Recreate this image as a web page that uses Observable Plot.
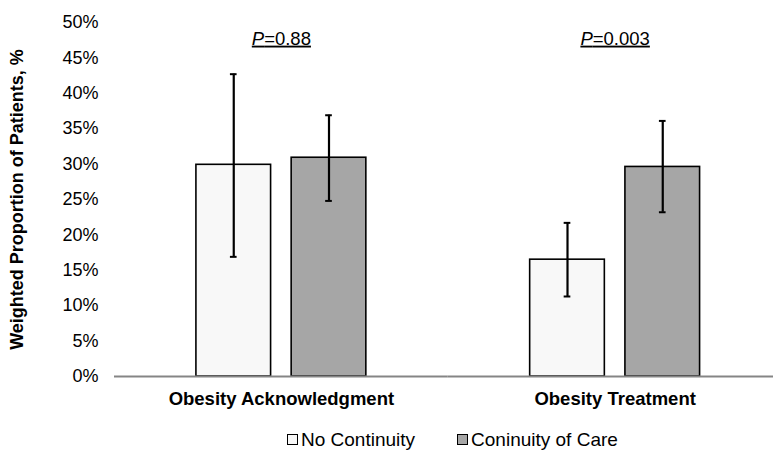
<!DOCTYPE html>
<html><head><meta charset="utf-8">
<script src="https://cdn.jsdelivr.net/npm/d3@7"></script>
<script src="https://cdn.jsdelivr.net/npm/@observablehq/plot@0.6"></script>
<style>
body{margin:0;background:#fff;font-family:"Liberation Sans",Arial,sans-serif;}
#chart{position:relative;width:773px;height:451px;overflow:hidden;}
#legend{display:flex;align-items:center;margin-left:287px;font-size:19px;line-height:19px;color:#000;}
#legend .item{display:flex;align-items:center;margin-right:42px;}
#legend .sw{width:9px;height:9px;border:1.5px solid #000;margin-right:3px;}
svg [aria-label="y-axis label"]{font-weight:bold;}
</style></head><body><div id="chart"></div><script>
const groups = ["Obesity Acknowledgment", "Obesity Treatment"];
const seriesNames = ["No Continuity", "Coninuity of Care"];
const noContinuity = [29.9, 16.5];
const noContinuityLow = [16.9, 11.3];
const noContinuityHigh = [42.7, 21.7];
const continuity = [30.9, 29.6];
const continuityLow = [24.8, 23.2];
const continuityHigh = [36.9, 36.1];
const pValues = ["0.88", "0.003"];
const yTicks = [0, 5, 10, 15, 20, 25, 30, 35, 40, 45, 50];
const colors = ["#f8f8f8", "#a6a6a6"];

const rows = [];
groups.forEach((g, i) => {
  rows.push({group: g, series: seriesNames[0], value: noContinuity[i], lo: noContinuityLow[i], hi: noContinuityHigh[i]});
  rows.push({group: g, series: seriesNames[1], value: continuity[i], lo: continuityLow[i], hi: continuityHigh[i]});
});
const pRows = groups.map((g, i) => ({group: g, label: "P=" + pValues[i]}));

const plot = Plot.plot({
  width: 773,
  height: 432,
  marginLeft: 114,
  marginRight: 0,
  marginTop: 22,
  marginBottom: 56,
  style: {fontFamily: '"Liberation Sans", Arial, sans-serif', fontSize: "18px", color: "#000", background: "#fff", overflow: "visible"},
  fx: {domain: groups, range: [114, 781.5], padding: 0, round: false, axis: null},
  x: {domain: seriesNames, paddingInner: 0.216, paddingOuter: 0.86, round: false, axis: null},
  y: {domain: [0, 50], axis: null},
  color: {domain: seriesNames, range: colors},
  marks: [
    Plot.axisY({ticks: yTicks, tickSize: 0, tickPadding: 16, tickFormat: d => d + "%", label: "Weighted Proportion of Patients, %", labelArrow: "none", labelAnchor: "center", labelOffset: 104, fontSize: 18}),
    Plot.axisFx({anchor: "bottom", tickSize: 0, tickPadding: 15, label: null, fontWeight: "bold", fontSize: 18.5}),
    Plot.barY(rows, {fx: "group", x: "series", y: "value", fill: "series", stroke: "#000", strokeWidth: 1.6}),
    Plot.ruleY([0], {stroke: "#858585", strokeWidth: 2}),
    Plot.ruleX(rows, {fx: "group", x: "series", y1: "lo", y2: "hi", stroke: "#000", strokeWidth: 2.2}),
    Plot.tickY(rows, {fx: "group", x: "series", y: "hi", stroke: "#000", strokeWidth: 2, insetLeft: 34, insetRight: 34}),
    Plot.tickY(rows, {fx: "group", x: "series", y: "lo", stroke: "#000", strokeWidth: 2, insetLeft: 34, insetRight: 34}),
    Plot.text(pRows, {fx: "group", text: "label", frameAnchor: "top", dy: 9, fontSize: 18.5, fill: "#000"})
  ]
});

d3.select(plot).selectAll("text").each(function() {
  const t = this.textContent;
  if (t.startsWith("P=")) {
    const el = d3.select(this);
    el.text(null).style("text-decoration", "underline");
    el.append("tspan").attr("font-style", "italic").text("P");
    el.append("tspan").text(t.slice(1));
  }
});

const chart = document.getElementById("chart");
chart.appendChild(plot);
const legend = document.createElement("div");
legend.id = "legend";
seriesNames.forEach((s, i) => {
  const item = document.createElement("div");
  item.className = "item";
  const sw = document.createElement("div");
  sw.className = "sw";
  sw.style.background = colors[i];
  const lab = document.createElement("span");
  lab.textContent = s;
  item.appendChild(sw);
  item.appendChild(lab);
  legend.appendChild(item);
});
legend.style.marginTop = "-2px";
chart.appendChild(legend);
</script></body></html>
